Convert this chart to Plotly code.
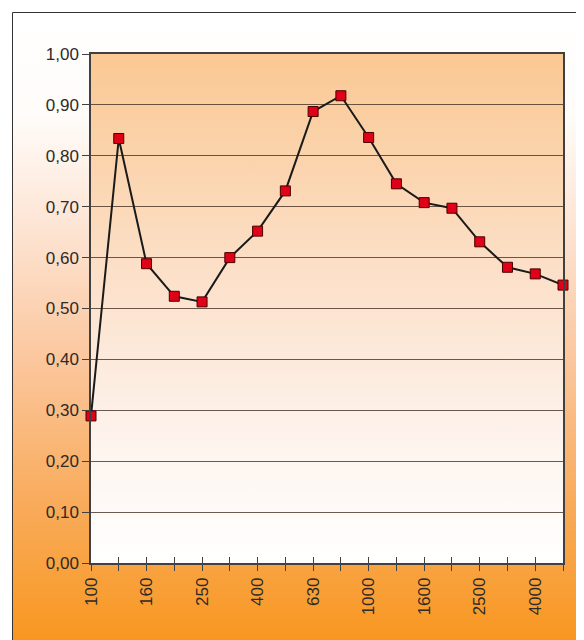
import base64
import plotly.graph_objects as go

# ---- data ----
categories = ["100", "125", "160", "200", "250", "315", "400", "500", "630",
              "800", "1000", "1250", "1600", "2000", "2500", "3150", "4000", "5000"]
values = [0.289, 0.834, 0.588, 0.524, 0.513, 0.600, 0.652, 0.731, 0.887,
          0.918, 0.836, 0.745, 0.708, 0.697, 0.631, 0.581, 0.568, 0.546]
shown_labels = ["100", "160", "250", "400", "630", "1000", "1600", "2500", "4000"]
y_ticks = [0.0, 0.1, 0.2, 0.3, 0.4, 0.5, 0.6, 0.7, 0.8, 0.9, 1.0]

x_idx = list(range(len(categories)))
tick_text = [c if c in shown_labels else "" for c in categories]


def svg_gradient(stops):
    st = "".join(f'<stop offset="{o}" stop-color="{c}"/>' for o, c in stops)
    svg = ('<svg xmlns="http://www.w3.org/2000/svg" width="100" height="100" preserveAspectRatio="none">'
           '<defs><linearGradient id="g" x1="0" y1="0" x2="0" y2="1">' + st +
           '</linearGradient></defs><rect width="100" height="100" fill="url(#g)"/></svg>')
    return "data:image/svg+xml;base64," + base64.b64encode(svg.encode()).decode()


outer_grad = svg_gradient([(0, "#FFFFFF"), (0.16, "#FFFCF9"), (0.34, "#FDE4D3"),
                           (0.55, "#FBC69C"), (0.76, "#F9AC5E"), (1, "#F8961C")])
plot_grad = svg_gradient([(0, "#FAC893"), (0.45, "#FCE1CB"), (0.75, "#FDF3EC"), (1, "#FFFFFF")])

# page body has an 8px margin, so the figure is drawn 8px in from the corner
W, H = 576, 632
ml, mr, mt, mb = 83, 21, 46, 77
pw, ph = W - ml - mr, H - mt - mb
fx0 = (4.5 - ml) / pw
fy1 = 1 + (mt - 4.5) / ph
fsx = (W - 4.5 + 10) / pw
fsy = (H - 4.5 + 10) / ph

fig = go.Figure()
fig.add_trace(go.Scatter(
    x=x_idx, y=values, mode="lines+markers",
    line=dict(color="#1a1a1a", width=2),
    marker=dict(symbol="square", size=10, color="#E00018",
                line=dict(color="#4a0000", width=1)),
    cliponaxis=False, showlegend=False,
))

axis_font = dict(family="Liberation Sans, Arial, sans-serif", size=17, color="#2e2a28")

fig.update_layout(
    width=W, height=H,
    margin=dict(l=ml, r=mr, t=mt, b=mb),
    paper_bgcolor="white",
    plot_bgcolor="rgba(0,0,0,0)",
    separators=",.",
    xaxis=dict(
        range=[0, len(categories) - 1],
        tickmode="array", tickvals=x_idx, ticktext=tick_text,
        tickangle=-90, ticks="outside", ticklen=6, tickcolor="#404040",
        showgrid=False, zeroline=False,
        showline=True, linecolor="#404040", linewidth=1.5, mirror=True,
        tickfont=axis_font,
    ),
    xaxis2=dict(
        range=[0, len(categories) - 1], overlaying="x", side="bottom",
        tickmode="array", tickvals=x_idx, ticktext=[""] * len(x_idx),
        ticks="inside", ticklen=6, tickcolor="#404040",
        showgrid=False, zeroline=False, showline=False,
    ),
    yaxis=dict(
        range=[0, 1], tickmode="array", tickvals=y_ticks, tickformat=".2f",
        ticks="outside", ticklen=7, tickcolor="#404040",
        showgrid=True, gridcolor="rgba(70,50,35,0.8)", gridwidth=1,
        zeroline=False,
        showline=True, linecolor="#404040", linewidth=1.5, mirror=True,
        tickfont=axis_font,
    ),
    images=[
        dict(source=outer_grad, xref="paper", yref="paper", x=fx0, y=fy1,
             sizex=fsx, sizey=fsy, sizing="stretch", xanchor="left", yanchor="top",
             layer="below"),
        dict(source=plot_grad, xref="paper", yref="paper", x=0, y=1,
             sizex=1, sizey=1, sizing="stretch", xanchor="left", yanchor="top",
             layer="below"),
    ],
    shapes=[
        dict(type="rect", xref="paper", yref="paper", x0=fx0, x1=fx0 + fsx,
             y0=fy1 - fsy, y1=fy1, line=dict(color="#333333", width=1),
             fillcolor="rgba(0,0,0,0)", layer="below"),
    ],
)

# empty trace so the overlay axis (inside ticks, making ticks cross the axis) is drawn
fig.add_trace(go.Scatter(x=[], y=[], xaxis="x2", showlegend=False, hoverinfo="skip"))

fig.write_html("out.html")
